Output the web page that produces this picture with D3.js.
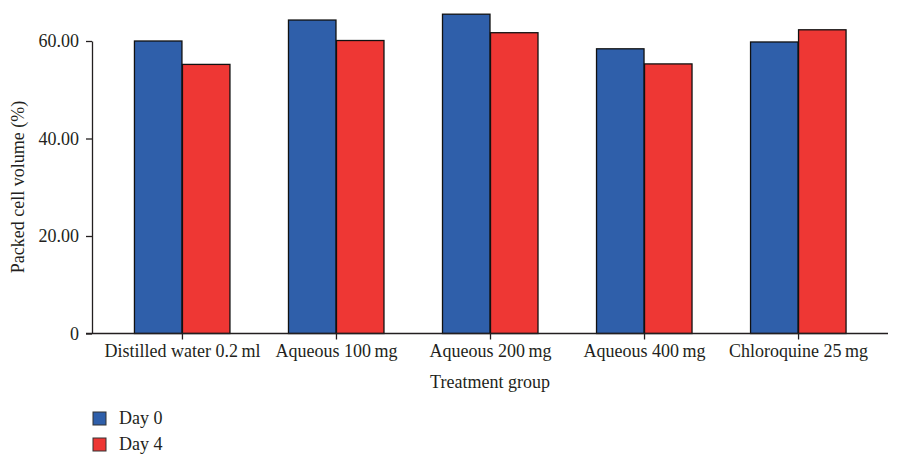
<!DOCTYPE html>
<html><head><meta charset="utf-8">
<script src="https://cdn.jsdelivr.net/npm/d3@7"></script>
<style>body{margin:0;background:#fff}svg text{font-family:"Liberation Serif","DejaVu Serif",serif;fill:#231f20}</style>
</head><body>
<svg id="c" width="900" height="456"></svg>
<script>
const categories = ["Distilled water 0.2\u2009ml","Aqueous 100\u2009mg","Aqueous 200\u2009mg","Aqueous 400\u2009mg","Chloroquine 25\u2009mg"];
const seriesNames = ["Day 0","Day 4"];
const day0 = [60.0, 64.3, 65.5, 58.4, 59.8];
const day4 = [55.2, 60.1, 61.7, 55.3, 62.3];
const yTicks = [0, 20, 40, 60];
const yTickLabels = ["0","20.00","40.00","60.00"];
const colors = ["#2f5faa","#ee3734"];

const FS = 18;
const svg = d3.select("#c");
const x0 = 92, x1 = 888, yTop = 41, yBot = 333.5;
const x = d3.scalePoint().domain(categories).range([x0, x1]).padding(0.584);
const y = d3.scaleLinear().domain([0, 60]).range([yBot, yTop]);
const bw = 47.5;
const series = [day0, day4];

// bars
series.forEach((vals, si) => {
  svg.append("g").selectAll("rect").data(vals).join("rect")
    .attr("x", (d,i) => x(categories[i]) + (si === 0 ? -bw : 0.5))
    .attr("y", d => y(d))
    .attr("width", bw)
    .attr("height", d => yBot - y(d))
    .attr("fill", colors[si])
    .attr("stroke", "#111")
    .attr("stroke-width", 1.3);
});

// y axis
const ya = svg.append("g").attr("transform", `translate(${x0},0)`)
  .call(d3.axisLeft(y).tickValues(yTicks).tickFormat((d,i) => yTickLabels[i]).tickSize(6).tickSizeOuter(0));
ya.select(".domain").attr("stroke", "#231f20").attr("stroke-width", 1.3);
ya.selectAll(".tick line").attr("stroke", "#231f20").attr("stroke-width", 1.3);
ya.selectAll(".tick text").attr("font-size", FS).attr("x", -13).attr("dy", "0.33em");

// x axis
const xa = svg.append("g").attr("transform", `translate(0,${yBot})`)
  .call(d3.axisBottom(x).tickSize(6).tickSizeOuter(0));
xa.select(".domain").attr("d", `M${x0 - 6},0H${x1}`).attr("stroke", "#231f20").attr("stroke-width", 1.3);
xa.selectAll(".tick line").attr("stroke", "#231f20").attr("stroke-width", 1.3);
xa.selectAll(".tick text").attr("font-size", FS).attr("y", 11).attr("dy", "0.71em");

// axis titles
svg.append("text").attr("x", 490).attr("y", 388).attr("text-anchor", "middle").attr("font-size", FS).text("Treatment group");
svg.append("text").attr("transform", "translate(24,187) rotate(-90)").attr("text-anchor", "middle").attr("font-size", FS).text("Packed cell volume (%)");

// legend
const lg = svg.append("g");
seriesNames.forEach((n, i) => {
  const ly = 412 + i * 26;
  lg.append("rect").attr("x", 93).attr("y", ly).attr("width", 13).attr("height", 13)
    .attr("fill", colors[i]).attr("stroke", "#333").attr("stroke-width", 1);
  lg.append("text").attr("x", 119).attr("y", ly + 12).attr("font-size", FS).text(n);
});
</script>
</body></html>
